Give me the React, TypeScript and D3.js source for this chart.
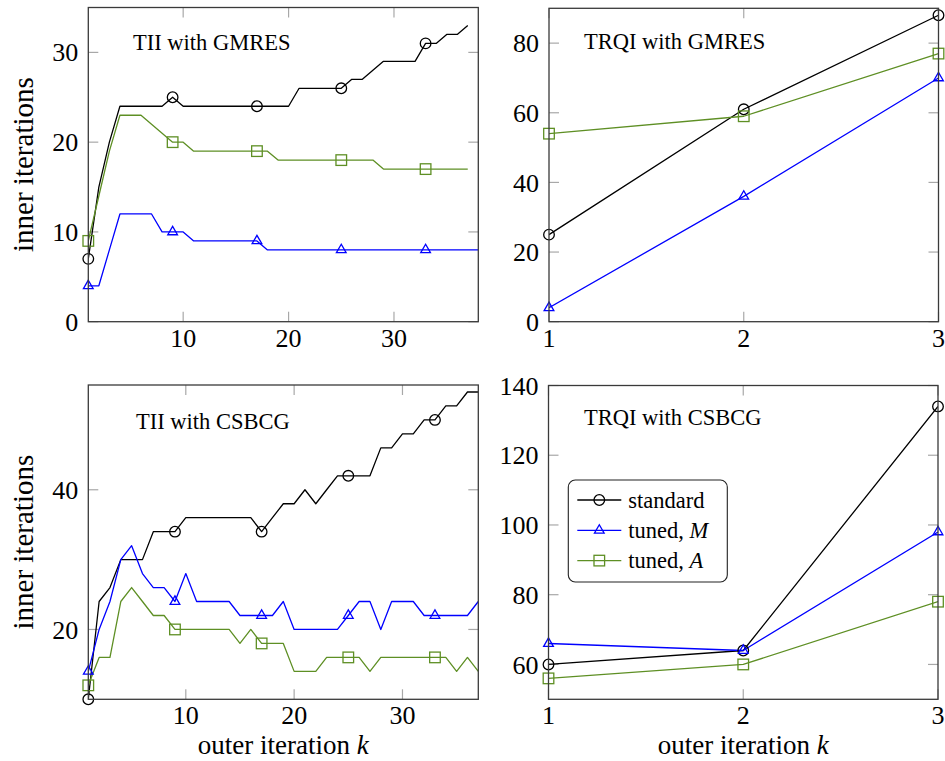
import React from 'react';
import * as d3 from 'd3';

// TII with GMRES (outer iteration 1..n)
const tiiGmresStandard = [7, 15, 20, 24, 24, 24, 24, 24, 25, 24, 24, 24, 24, 24, 24, 24, 24, 24, 24, 24, 26, 26, 26, 26, 26, 27, 27, 28, 29, 29, 29, 29, 31, 31, 32, 32, 33];
const tiiGmresTunedM = [4, 4, 8, 12, 12, 12, 12, 10, 10, 10, 9, 9, 9, 9, 9, 9, 9, 8, 8, 8, 8, 8, 8, 8, 8, 8, 8, 8, 8, 8, 8, 8, 8, 8, 8, 8, 8, 8];
const tiiGmresTunedA = [9, 14, 19, 23, 23, 23, 22, 21, 20, 20, 19, 19, 19, 19, 19, 19, 19, 19, 18, 18, 18, 18, 18, 18, 18, 18, 18, 18, 17, 17, 17, 17, 17, 17, 17, 17, 17];

// TII with CSBCG
const tiiCsbcgStandard = [10, 24, 26, 30, 30, 30, 34, 34, 34, 36, 36, 36, 36, 36, 36, 36, 34, 36, 38, 38, 40, 38, 40, 42, 42, 42, 42, 46, 46, 48, 48, 50, 50, 52, 52, 54, 54];
const tiiCsbcgTunedM = [14, 20, 24, 30, 32, 28, 26, 26, 24, 28, 24, 24, 24, 24, 22, 22, 22, 22, 24, 20, 20, 20, 20, 20, 22, 24, 24, 20, 24, 24, 24, 22, 22, 22, 22, 22, 24];
const tiiCsbcgTunedA = [12, 16, 16, 24, 26, 24, 22, 22, 20, 20, 20, 20, 20, 20, 18, 20, 18, 18, 18, 14, 14, 14, 16, 16, 16, 16, 14, 16, 16, 16, 16, 16, 16, 16, 14, 16, 14];

// TRQI (outer iteration 1..3)
const trqiGmresStandard = [25, 61, 88];
const trqiGmresTunedM = [4, 36, 70];
const trqiGmresTunedA = [54, 59, 77];
const trqiCsbcgStandard = [60, 64, 134];
const trqiCsbcgTunedM = [66, 64, 98];
const trqiCsbcgTunedA = [56, 60, 78];

const tiiXTicks = [10, 20, 30];
const trqiXTicks = [1, 2, 3];
const tiiGmresYTicks = [0, 10, 20, 30];
const tiiCsbcgYTicks = [20, 40];
const trqiGmresYTicks = [0, 20, 40, 60, 80];
const trqiCsbcgYTicks = [60, 80, 100, 120, 140];

const legendLabels = ['standard', 'tuned, ', 'tuned, '];
const legendMath = ['', 'M', 'A'];

const BLACK = '#000000';
const BLUE = '#0000ff';
const GREEN = '#5e8f24';
const FONT = '"Liberation Serif", "DejaVu Serif", serif';

const Marker = ({ type, x, y, color }) => {
  const r = 5.3;
  if (type === 'circle') return <circle cx={x} cy={y} r={r} fill="none" stroke={color} strokeWidth={1.3} />;
  if (type === 'square') return <rect x={x - r} y={y - r} width={2 * r} height={2 * r} fill="none" stroke={color} strokeWidth={1.3} />;
  const t = 5.6;
  const pts = [[x, y - t], [x - t * 0.866, y + t * 0.5], [x + t * 0.866, y + t * 0.5]];
  return <polygon points={pts.map((p) => p.join(',')).join(' ')} fill="none" stroke={color} strokeWidth={1.3} />;
};

const Panel = ({ id, frame, xDomain, yDomain, xTicks, yTicks, title, titleX, titleY, series, markEvery, showXLabel, showYLabel }) => {
  const x = d3.scaleLinear().domain(xDomain).range([frame.left, frame.right]);
  const y = d3.scaleLinear().domain(yDomain).range([frame.bottom, frame.top]);
  const line = d3.line().x((d) => x(d[0])).y((d) => y(d[1]));
  const tickLen = 10;
  return (
    <g>
      <defs>
        <clipPath id={`clip-${id}`}>
          <rect x={frame.left} y={frame.top} width={frame.right - frame.left} height={frame.bottom - frame.top} />
        </clipPath>
      </defs>
      {/* ticks inside, mirrored on both sides */}
      {xTicks.map((t) => (
        <g key={`xt${t}`} stroke="#a8a8a8" strokeWidth={1.2}>
          <line x1={x(t)} x2={x(t)} y1={frame.bottom} y2={frame.bottom - tickLen} />
          <line x1={x(t)} x2={x(t)} y1={frame.top} y2={frame.top + tickLen} />
        </g>
      ))}
      {yTicks.map((t) => (
        <g key={`yt${t}`} stroke="#a8a8a8" strokeWidth={1.2}>
          <line x1={frame.left} x2={frame.left + tickLen} y1={y(t)} y2={y(t)} />
          <line x1={frame.right} x2={frame.right - tickLen} y1={y(t)} y2={y(t)} />
        </g>
      ))}
      {xTicks.map((t) => (
        <text key={`xl${t}`} x={x(t)} y={frame.bottom + 25} textAnchor="middle" fontSize={26} fontFamily={FONT}>{t}</text>
      ))}
      {yTicks.map((t) => (
        <text key={`yl${t}`} x={frame.left - 10} y={y(t)} dy="0.35em" textAnchor="end" fontSize={26} fontFamily={FONT}>{t}</text>
      ))}
      <g clipPath={`url(#clip-${id})`}>
        {series.map((s, i) => (
          <path key={i} d={line(s.values.map((v, j) => [j + 1, v]))} fill="none" stroke={s.color} strokeWidth={1.3} strokeLinejoin="round" />
        ))}
      </g>
      {series.map((s, i) =>
        s.values.map((v, j) =>
          j % markEvery === 0 ? <Marker key={`${i}-${j}`} type={s.marker} x={x(j + 1)} y={y(v)} color={s.color} /> : null
        )
      )}
      <rect x={frame.left} y={frame.top} width={frame.right - frame.left} height={frame.bottom - frame.top} fill="none" stroke="#3a3a3a" strokeWidth={1.3} />
      <text x={titleX} y={titleY} fontSize={22.5} fontFamily={FONT}>{title}</text>
      {showXLabel && (
        <text x={(frame.left + frame.right) / 2} y={frame.bottom + 54.5} textAnchor="middle" fontSize={27} fontFamily={FONT}>
          outer iteration <tspan fontStyle="italic">k</tspan>
        </text>
      )}
      {showYLabel && (
        <text transform={`translate(33,${(frame.top + frame.bottom) / 2}) rotate(-90)`} textAnchor="middle" fontSize={29} fontFamily={FONT}>
          inner iterations
        </text>
      )}
    </g>
  );
};

const Legend = ({ x0, y0 }) => {
  const colors = [BLACK, BLUE, GREEN];
  const markers = ['circle', 'triangle', 'square'];
  return (
    <g>
      <rect x={x0} y={y0} width={159} height={102} rx={7} fill="#fff" stroke="#222" strokeWidth={1.1} />
      {legendLabels.map((lab, i) => {
        const cy = y0 + 20 + i * 30.3;
        return (
          <g key={i}>
            <line x1={x0 + 9} x2={x0 + 53} y1={cy} y2={cy} stroke={colors[i]} strokeWidth={1.3} />
            <Marker type={markers[i]} x={x0 + 31} y={cy} color={colors[i]} />
            <text x={x0 + 60} y={cy} dy="0.35em" fontSize={22.5} fontFamily={FONT}>
              {lab}
              {legendMath[i] && <tspan fontStyle="italic">{legendMath[i]}</tspan>}
            </text>
          </g>
        );
      })}
    </g>
  );
};

export default function App() {
  const tl = { left: 88.3, right: 478.3, top: 7.5, bottom: 321.7 };
  const bl = { left: 88.3, right: 478.3, top: 385, bottom: 699.3 };
  const tr = { left: 549, right: 938.5, top: 8.3, bottom: 321.7 };
  const br = { left: 548.5, right: 938, top: 385.5, bottom: 699.3 };
  return (
    <svg width={945} height={761} style={{ position: 'absolute', left: 0, top: 0, background: '#fff' }}>
      <Panel
        id="tl" frame={tl} xDomain={[1, 38]} yDomain={[0, 35]} xTicks={tiiXTicks} yTicks={tiiGmresYTicks}
        title="TII with GMRES" titleX={133} titleY={50} markEvery={8} showYLabel
        series={[
          { values: tiiGmresStandard, color: BLACK, marker: 'circle' },
          { values: tiiGmresTunedM, color: BLUE, marker: 'triangle' },
          { values: tiiGmresTunedA, color: GREEN, marker: 'square' },
        ]}
      />
      <Panel
        id="bl" frame={bl} xDomain={[1, 37]} yDomain={[10, 55]} xTicks={tiiXTicks} yTicks={tiiCsbcgYTicks}
        title="TII with CSBCG" titleX={136} titleY={429} markEvery={8} showXLabel showYLabel
        series={[
          { values: tiiCsbcgStandard, color: BLACK, marker: 'circle' },
          { values: tiiCsbcgTunedM, color: BLUE, marker: 'triangle' },
          { values: tiiCsbcgTunedA, color: GREEN, marker: 'square' },
        ]}
      />
      <Panel
        id="tr" frame={tr} xDomain={[1, 3]} yDomain={[0, 90]} xTicks={trqiXTicks} yTicks={trqiGmresYTicks}
        title="TRQI with GMRES" titleX={584} titleY={48.5} markEvery={1}
        series={[
          { values: trqiGmresStandard, color: BLACK, marker: 'circle' },
          { values: trqiGmresTunedM, color: BLUE, marker: 'triangle' },
          { values: trqiGmresTunedA, color: GREEN, marker: 'square' },
        ]}
      />
      <Panel
        id="br" frame={br} xDomain={[1, 3]} yDomain={[50, 140]} xTicks={trqiXTicks} yTicks={trqiCsbcgYTicks}
        title="TRQI with CSBCG" titleX={584} titleY={424.5} markEvery={1} showXLabel
        series={[
          { values: trqiCsbcgStandard, color: BLACK, marker: 'circle' },
          { values: trqiCsbcgTunedM, color: BLUE, marker: 'triangle' },
          { values: trqiCsbcgTunedA, color: GREEN, marker: 'square' },
        ]}
      />
      <Legend x0={568.3} y0={480} />
    </svg>
  );
}
